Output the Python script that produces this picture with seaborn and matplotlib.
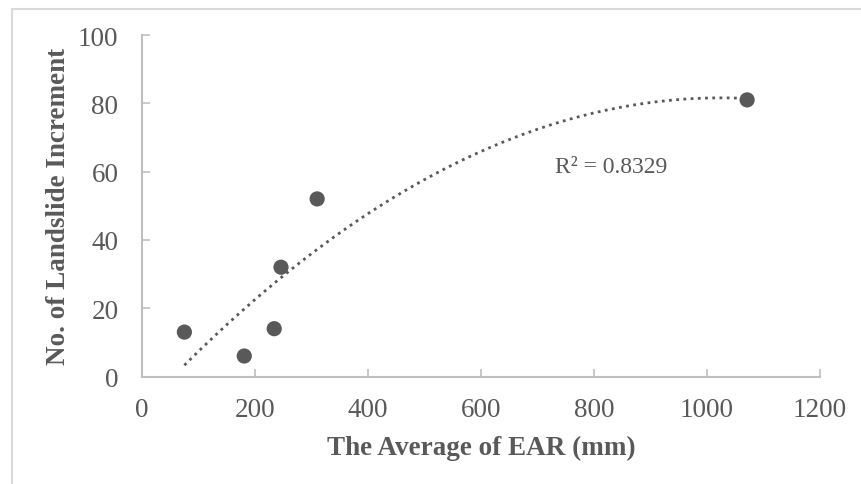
import numpy as np
import pandas as pd
import matplotlib
matplotlib.use("Agg")
import matplotlib.pyplot as plt
import seaborn as sns
from matplotlib.patches import Rectangle

# Data
ear_mm = [75, 181, 234, 246, 310, 1071]
landslide_increment = [13, 6, 14, 32, 52, 81]
x_ticks = [0, 200, 400, 600, 800, 1000, 1200]
y_ticks = [0, 20, 40, 60, 80, 100]
r2_label = "R² = 0.8329"

sns.set_theme(style="white")
plt.rcParams['font.family'] = ['Liberation Serif', 'DejaVu Serif']

gray = "#595959"
spine = "#bfbfbf"

fig = plt.figure(figsize=(8.62, 4.85), dpi=100)
fig.patches.append(Rectangle((12/862, -0.1), 1.2, 1 - 10/485 + 0.1,
                             transform=fig.transFigure, fill=False,
                             edgecolor="#d9d9d9", linewidth=1.5))
ax = fig.add_axes([142/862, 1 - 377.5/485, (820-142)/862, (377.5-36)/485])

df = pd.DataFrame({"ear": ear_mm, "inc": landslide_increment})

# Polynomial (order 2) trendline
coef = np.polyfit(df["ear"], df["inc"], 2)
xs = np.linspace(min(ear_mm), max(ear_mm), 200)
trend = pd.DataFrame({"ear": xs, "inc": np.polyval(coef, xs)})
sns.lineplot(data=trend, x="ear", y="inc", ax=ax, color=gray,
             linestyle=(0, (1, 1.6)), linewidth=2.0)

sns.scatterplot(data=df, x="ear", y="inc", ax=ax, color=gray, s=120,
                edgecolor="none", zorder=3)

ax.set_xlim(0, 1200)
ax.set_ylim(0, 100)
ax.set_xticks(x_ticks)
ax.set_yticks(y_ticks)
ax.tick_params(axis='both', direction='in', length=6, width=1.2,
               bottom=True, left=True,
               color=spine, labelcolor=gray, labelsize=19.5)
ax.tick_params(axis='x', pad=15)
ax.tick_params(axis='y', pad=17)
for s in ["top", "right"]:
    ax.spines[s].set_visible(False)
for s in ["left", "bottom"]:
    ax.spines[s].set_color(spine)
    ax.spines[s].set_linewidth(1.5)

ax.set_xlabel("The Average of EAR (mm)", fontsize=19.5, fontweight='bold',
              color=gray, labelpad=9)
ax.set_ylabel("No. of Landslide Increment", fontsize=19.5, fontweight='bold',
              color=gray, labelpad=5)

ax.text(731, 61.4, r2_label, fontsize=17, color=gray, va='center', ha='left')

fig.savefig("out.png", dpi=100)
